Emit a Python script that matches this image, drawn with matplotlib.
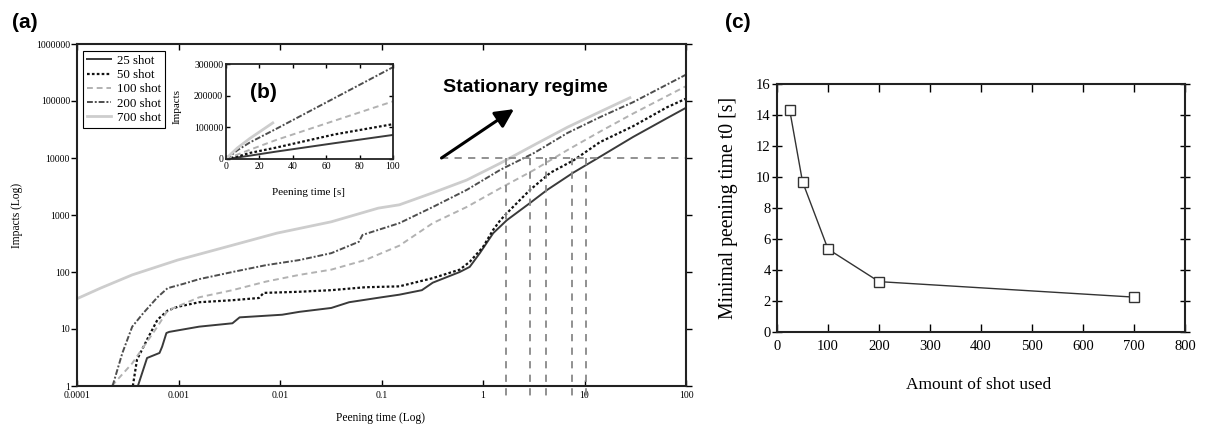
import matplotlib
matplotlib.use('Agg')
import matplotlib.pyplot as plt

serif = ['Liberation Serif', 'DejaVu Serif']
sans = ['Liberation Sans', 'DejaVu Sans']
plt.rcParams['font.family'] = serif

# ---------------- data ----------------
labels = ['25 shot', '50 shot', '100 shot', '200 shot', '700 shot']
shots = [25, 50, 100, 200, 700]

t25 = [0.000398, 0.00049, 0.00065, 0.00069, 0.00076, 0.00081, 0.0016, 0.0034, 0.0040,
       0.0105, 0.0155, 0.032, 0.048, 0.10, 0.15, 0.25, 0.32, 0.59, 0.74, 0.93, 1.26,
       1.72, 2.90, 4.28, 7.71, 14.2, 30.1, 65, 100]
n25 = [1, 3.1, 3.8, 4.9, 8.5, 8.9, 11, 12.6, 16,
       17.8, 20, 23.4, 29.5, 36, 40, 48, 65, 100, 123, 214, 480,
       813, 1620, 2750, 5500, 10500, 23400, 50000, 76000]

t50 = [0.000355, 0.00039, 0.00049, 0.00062, 0.00078, 0.00098, 0.0016, 0.0034, 0.0062,
       0.0069, 0.0155, 0.032, 0.069, 0.15, 0.32, 0.59, 0.74, 1.0, 1.26, 1.48, 1.85,
       2.9, 4.6, 7.8, 14.2, 30, 65, 100]
n50 = [1, 2.9, 6.5, 14.5, 21, 24.5, 29.5, 32, 35,
       43, 45, 48, 54, 56, 78, 110, 151, 275, 550, 810, 1230,
       2750, 5500, 9100, 19000, 36000, 77600, 110000]

t100 = [0.00022, 0.00035, 0.00045, 0.00062, 0.00078, 0.0016, 0.0034, 0.0073, 0.0155,
        0.032, 0.069, 0.15, 0.32, 0.69, 1.48, 3.2, 6.8, 14.2, 30, 100]
n100 = [1, 2.5, 4.8, 11, 21, 36, 48, 68, 89,
        110, 162, 290, 720, 1380, 2950, 6200, 13800, 29000, 60000, 182000]

t200 = [0.000224, 0.00028, 0.00035, 0.00045, 0.00062, 0.00078, 0.00112, 0.0016, 0.0034,
        0.0073, 0.0155, 0.032, 0.060, 0.065, 0.15, 0.32, 0.69, 1.48, 3.2, 6.8, 14.2,
        30, 100]
n200 = [1, 3.8, 11, 19, 36, 52, 62, 75, 100,
        132, 162, 214, 340, 447, 720, 1380, 2750, 6200, 12300, 27500, 52000,
        95000, 290000]

t700 = [0.0001, 0.00017, 0.00035, 0.00098, 0.0034, 0.0093, 0.032, 0.093, 0.15, 0.32,
        0.69, 1.48, 3.2, 6.8, 14.2, 28]
n700 = [34, 52, 89, 162, 295, 480, 760, 1320, 1510, 2450,
        4100, 8100, 17000, 34700, 64600, 114000]

times = [t25, t50, t100, t200, t700]
impacts = [n25, n50, n100, n200, n700]

# stationary-regime markers
t_marks = [1.7, 2.9, 4.2, 7.5, 10.4]
n_mark = 10000
t_mark_start = 0.39

# panel (c)
t0_min = [14.3, 9.7, 5.35, 3.25, 2.25]

x_log_ticks = [0.0001, 0.001, 0.01, 0.1, 1, 10, 100]
x_log_labels = ['0.0001', '0.001', '0.01', '0.1', '1', '10', '100']
y_log_ticks = [1, 10, 100, 1000, 10000, 100000, 1000000]
y_log_labels = ['1', '10', '100', '1000', '10000', '100000', '1000000']

# ---------------- styles ----------------
styles = [
    dict(color='#3a3a3a', ls='-', lw=1.4),
    dict(color='#111111', ls=(0, (1.2, 1.0)), lw=1.6),
    dict(color='#b2b2b2', ls=(0, (3, 2)), lw=1.4),
    dict(color='#4e4e4e', ls=(0, (3, 1, 1, 1)), lw=1.4),
    dict(color='#cdcdcd', ls='-', lw=2.0),
]

W, H = 1205, 428
fig = plt.figure(figsize=(W / 100, H / 100), dpi=100)


def box(l, t, r, b):
    return [l / W, 1 - b / H, (r - l) / W, (b - t) / H]


# ---------------- (a) main log plot ----------------
ax = fig.add_axes(box(77, 44, 686, 386))
for t, n, lab, st in zip(times, impacts, labels, styles):
    ax.plot(t, n, label=lab, **st)
ax.set_xscale('log')
ax.set_yscale('log')
ax.set_xlim(1e-4, 100)
ax.set_ylim(1, 1e6)
ax.set_xticks(x_log_ticks, x_log_labels)
ax.set_yticks(y_log_ticks, y_log_labels)
ax.minorticks_off()
ax.tick_params(axis='x', which='both', direction='in', top=True, length=4, width=1,
               labelsize=7, pad=3.5)
ax.tick_params(axis='y', which='both', direction='out', length=4, width=1,
               labelsize=7, pad=1)
ax.tick_params(axis='y', which='both', right=True)
for sp in ax.spines.values():
    sp.set_linewidth(1.5)
    sp.set_color('#222222')

dash_kw = dict(color='#888888', lw=1.3, ls=(0, (4, 3.5)))
ax.plot([t_mark_start, 100], [n_mark, n_mark], **dash_kw)
for tm in t_marks:
    ax.plot([tm, tm], [n_mark, 0.56], clip_on=False, **dash_kw)

ax.annotate('', xy=(2.02, 72000), xytext=(t_mark_start, n_mark),
            arrowprops=dict(arrowstyle='-|>', color='black', lw=2.2,
                            mutation_scale=28, shrinkA=0, shrinkB=0))
ax.text(0.40, 170000, 'Stationary regime', family=sans, fontweight='bold',
        fontsize=14, ha='left', va='center')

leg = ax.legend(loc='upper left', bbox_to_anchor=((83 - 77) / 609, (386 - 51) / 342),
                borderaxespad=0, fontsize=9.3, frameon=True, fancybox=False,
                edgecolor='black', framealpha=1, handlelength=1.9,
                labelspacing=0.17, borderpad=0.3, handletextpad=0.4)
leg.get_frame().set_linewidth(0.8)

fig.text(17 / W, 1 - 215 / H, 'Impacts (Log)', rotation=90, ha='center', va='center',
         fontsize=8.3)
fig.text(380 / W, 1 - 418 / H, 'Peening time (Log)', ha='center', va='center',
         fontsize=8.3)

# ---------------- (b) inset linear plot ----------------
axi = fig.add_axes(box(226, 64, 393, 159))
for t, n, st in zip(times, impacts, styles):
    axi.plot([0] + t, [0] + n, **st)
axi.set_xlim(0, 100)
axi.set_ylim(0, 300000)
axi.set_xticks([0, 20, 40, 60, 80, 100])
axi.set_yticks([0, 100000, 200000, 300000])
axi.tick_params(direction='in', top=True, right=True, length=3, width=1,
                labelsize=7, pad=2)
for sp in axi.spines.values():
    sp.set_linewidth(1.3)
    sp.set_color('#222222')
fig.text(177 / W, 1 - 107 / H, 'Impacts', rotation=90, ha='center', va='center',
         fontsize=8)
fig.text(308 / W, 1 - 192 / H, 'Peening time [s]', ha='center', va='center',
         fontsize=8)

# ---------------- (c) ----------------
axc = fig.add_axes(box(777, 84, 1185, 332))
axc.plot(shots, t0_min, color='#333333', lw=1.0, marker='s', ms=6.5,
         mfc='white', mec='#333333', mew=1.0)
axc.set_xlim(0, 800)
axc.set_ylim(0, 16)
axc.set_xticks(range(0, 801, 100))
axc.set_yticks(range(0, 17, 2))
axc.tick_params(axis='x', direction='in', top=True, length=5.5, width=1,
                labelsize=10.5, pad=6)
axc.tick_params(axis='y', direction='inout', right=True, length=7, width=1,
                labelsize=10.5, pad=1)
for sp in axc.spines.values():
    sp.set_linewidth(1.5)
    sp.set_color('#222222')
fig.text(728 / W, 1 - 208 / H, 'Minimal peening time t0 [s]', rotation=90,
         ha='center', va='center', fontsize=14.2)
fig.text(979 / W, 1 - 385 / H, 'Amount of shot used', ha='center', va='center',
         fontsize=12.5)

# ---------------- panel letters ----------------
fig.text(12 / W, 1 - 23 / H, '(a)', family=sans, fontweight='bold', fontsize=15,
         ha='left', va='center')
fig.text(250 / W, 1 - 93 / H, '(b)', family=sans, fontweight='bold', fontsize=15,
         ha='left', va='center')
fig.text(725 / W, 1 - 23 / H, '(c)', family=sans, fontweight='bold', fontsize=15,
         ha='left', va='center')

fig.savefig('out.png', dpi=100)
